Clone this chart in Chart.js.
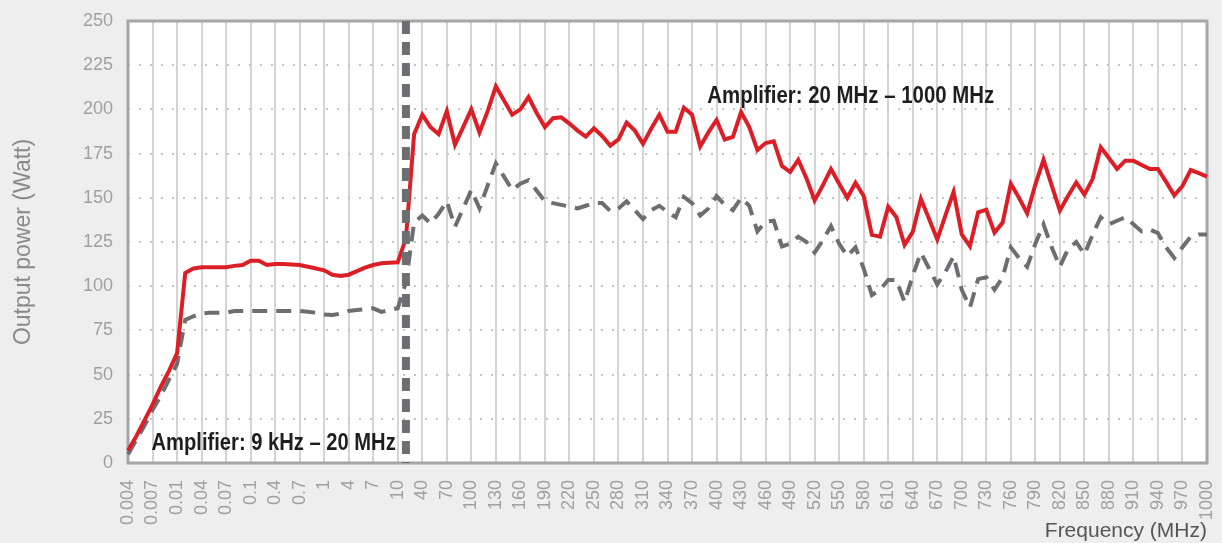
<!DOCTYPE html>
<html>
<head>
<meta charset="utf-8">
<script src="https://cdn.jsdelivr.net/npm/chart.js@4.4.1/dist/chart.umd.min.js"></script>
<style>
  html, body { margin: 0; padding: 0; background: #eeeeee; }
  #wrap { width: 1222px; height: 543px; }
</style>
</head>
<body>
<div id="wrap"><canvas id="powerChart" width="1222" height="543"></canvas></div>
<script>
// Frequency categories (MHz)
const frequencies = [
    '0.004', '0.005', '0.006', '0.007', '0.008', '0.009',
    '0.01', '0.02', '0.03', '0.04', '0.05', '0.06', '0.07', '0.08', '0.09',
    '0.1', '0.2', '0.3', '0.4', '0.5', '0.6', '0.7', '0.8', '0.9',
    '1', '2', '3', '4', '5', '6', '7', '8', '9',
    '10', '20', '30', '40', '50', '60', '70', '80', '90', '100',
    '110', '120', '130', '140', '150', '160', '170', '180', '190', '200',
    '210', '220', '230', '240', '250', '260', '270', '280', '290', '300',
    '310', '320', '330', '340', '350', '360', '370', '380', '390', '400',
    '410', '420', '430', '440', '450', '460', '470', '480', '490', '500',
    '510', '520', '530', '540', '550', '560', '570', '580', '590', '600',
    '610', '620', '630', '640', '650', '660', '670', '680', '690', '700',
    '710', '720', '730', '740', '750', '760', '770', '780', '790', '800',
    '810', '820', '830', '840', '850', '860', '870', '880', '890', '900',
    '910', '920', '930', '940', '950', '960', '970', '980', '990', '1000'
];

// Labels shown on the x axis (every third category)
const tickLabels = [
    '0.004', '0.007', '0.01', '0.04', '0.07', '0.1', '0.4', '0.7', '1', '4', '7', '10',
    '40', '70', '100', '130', '160', '190', '220', '250', '280', '310', '340', '370',
    '400', '430', '460', '490', '520', '550', '580', '610', '640', '670', '700', '730',
    '760', '790', '820', '850', '880', '910', '940', '970', '1000'
];

// Output power, upper curve (red)
const powerMax = [
    7, 15, 24, 33, 43, 52,
    62, 107.5, 110, 110.7, 110.7, 110.7, 110.7, 111.5, 112,
    114.4, 114.4, 112, 112.5, 112.6, 112.3, 112, 111, 110,
    109, 106.5, 105.8, 106.5, 108.5, 110.5, 112, 113, 113.2,
    113.5, 127, 186, 197, 190, 186, 199, 180, 190, 200,
    187, 199, 213, 205, 197, 200, 207, 198, 190, 195,
    195.5, 192, 188, 184.6, 189.3, 185, 179.5, 183, 192.5, 188,
    180.5, 189, 197, 187.4, 187.4, 201, 197, 179, 187, 194,
    183, 184.4, 198.5, 190, 177, 181, 182, 168, 164.6, 171.5,
    161, 148.5, 157, 166.3, 158, 150, 158.5, 151, 129, 128,
    145, 139, 123.3, 130.7, 149.4, 138, 126.4, 140, 153.3, 129.3,
    122.6, 141.8, 143.3, 130.3, 136, 158, 150, 141.2, 157.5, 171.5,
    157, 142.8, 151, 158.7, 151.8, 160.6, 178.6, 172.5, 166.3, 171,
    171, 168.6, 166.3, 166.3, 159, 151.4, 156.7, 165.7, 164, 162
];

// Output power, lower curve (grey dashed)
const powerMin = [
    5, 13, 21, 30, 38, 47,
    56, 81, 83, 84.5, 85, 85, 85, 86, 86,
    86, 86, 86, 86, 86, 86, 86, 85.5, 85,
    84, 83.7, 84.5, 86, 86.5, 87, 87.5, 85.5, 86.5,
    87.5, 102, 136, 140, 135.5, 141, 148, 133.6, 144, 154.4,
    144, 157, 169.5, 162, 154.4, 158, 160, 154, 148, 147,
    146, 145, 144, 145.5, 147, 147, 142.5, 144, 148, 143,
    138, 143, 145.5, 142, 139, 150.5, 147, 140, 144, 151,
    146, 143, 150, 145.5, 131, 136.5, 137, 122.5, 124, 128,
    125, 119, 126, 134, 124, 117, 122, 110, 95, 98,
    103.5, 103.5, 91, 106, 119, 110, 101, 108, 117, 98,
    88, 104, 105, 98, 105, 122, 116, 111, 124, 135,
    122, 111, 121, 125, 118, 129, 139, 135, 137, 139,
    135, 131, 132, 130, 122, 116, 122, 128, 129.3, 129.3
];

// Boundary between the two amplifiers
const splitFrequency = '20';
const yRange = [0, 250];
const yStep = 25;

const lowBandText = 'Amplifier: 9 kHz \u2013 20 MHz';
const highBandText = 'Amplifier: 20 MHz \u2013 1000 MHz';

const baseFont = '"Liberation Sans", Arial, sans-serif';

// Узкий жирный текст: обычный шрифт, сжатый по горизонтали
function drawNarrowText(ctx, text, x, y, squeeze) {
    ctx.save();
    ctx.translate(x, y);
    ctx.scale(squeeze, 1);
    ctx.fillText(text, 0, 0);
    ctx.restore();
}

// Фон области графика, рамка и подписи
const chartDecor = {
    id: 'chartDecor',
    beforeDraw(chart) {
        const { ctx, chartArea: a } = chart;
        ctx.save();
        ctx.fillStyle = '#ffffff';
        ctx.fillRect(a.left, a.top, a.width, a.height);
        ctx.restore();
    },
    beforeDatasetsDraw(chart) {
        const { ctx, chartArea: a } = chart;
        ctx.save();
        ctx.strokeStyle = '#a6a6a6';
        ctx.lineWidth = 3;
        ctx.strokeRect(a.left, a.top, a.width, a.height);
        ctx.restore();
    },
    afterDatasetsDraw(chart) {
        const { ctx, chartArea: a, scales: { x, y } } = chart;
        ctx.save();
        ctx.fillStyle = '#1e1e1e';
        ctx.font = 'bold 24px ' + baseFont;
        ctx.textAlign = 'left';
        ctx.textBaseline = 'alphabetic';
        drawNarrowText(ctx, lowBandText, x.getPixelForValue(3) - 1, y.getPixelForValue(7.4), 0.84);
        drawNarrowText(ctx, highBandText, x.getPixelForValue(71) - 1, y.getPixelForValue(203.6), 0.85);
        ctx.font = '21px ' + baseFont;
        ctx.fillStyle = '#555555';
        ctx.textAlign = 'right';
        ctx.fillText('Frequency (MHz)', a.right, 537);
        ctx.restore();
    }
};

const powerChart = new Chart(document.getElementById('powerChart'), {
    type: 'line',
    data: {
        labels: frequencies,
        datasets: [
            {
                label: 'split',
                data: [{ x: splitFrequency, y: yRange[1] }, { x: splitFrequency, y: yRange[0] }],
                borderColor: '#6d6e71',
                borderWidth: 8,
                borderDash: [13, 8],
                pointRadius: 0
            },
            {
                label: 'max',
                data: powerMax,
                borderColor: '#dc1f26',
                borderWidth: 4,
                pointRadius: 0,
                tension: 0
            },
            {
                label: 'min',
                data: powerMin,
                borderColor: '#6d6e71',
                borderWidth: 4,
                borderDash: [15, 9],
                pointRadius: 0,
                tension: 0
            }
        ]
    },
    options: {
        responsive: false,
        animation: false,
        layout: { padding: { top: 21, right: 15, left: 0, bottom: 0 } },
        plugins: {
            legend: { display: false },
            tooltip: { enabled: false }
        },
        scales: {
            x: {
                type: 'category',
                offset: false,
                afterFit(scale) {
                    scale.height = 80;
                    scale.paddingLeft = 0;
                    scale.paddingRight = 0;
                },
                grid: { color: '#d4d4d4', lineWidth: 2, drawTicks: false },
                border: { display: false },
                ticks: {
                    autoSkip: false,
                    minRotation: 90,
                    maxRotation: 90,
                    padding: 17,
                    color: '#a0a0a0',
                    font: { family: baseFont, size: 18 },
                    callback(value) {
                        const label = this.getLabelForValue(value);
                        return tickLabels.includes(label) ? label : null;
                    }
                }
            },
            y: {
                min: yRange[0],
                max: yRange[1],
                afterFit(scale) {
                    scale.width = 128;
                    scale.paddingTop = 0;
                    scale.paddingBottom = 0;
                },
                grid: { color: '#c4c4c4', lineWidth: 2, drawTicks: false },
                border: { display: false, dash: [2, 9] },
                ticks: {
                    stepSize: yStep,
                    padding: 15,
                    color: '#a0a0a0',
                    font: { family: baseFont, size: 18 }
                },
                title: {
                    display: true,
                    text: 'Output power (Watt)',
                    color: '#8a8a8a',
                    font: { family: baseFont, size: 23 },
                    padding: { top: 10, bottom: 0 }
                }
            }
        }
    },
    plugins: [chartDecor]
});
</script>
</body>
</html>
